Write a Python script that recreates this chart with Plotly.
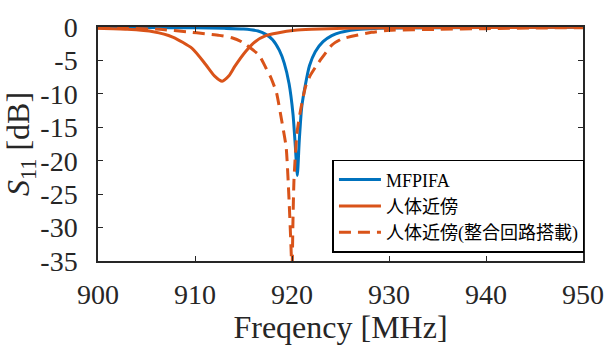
import plotly.graph_objects as go

# MFPIFA
f_blue = [900, 905, 910, 913, 915, 916.5, 917.3, 918, 918.7, 919.2, 919.7, 920.1, 920.35, 920.55,
          920.75, 921.0, 921.4, 921.8, 922.4, 923.2, 924.1, 925, 926.5, 928, 930, 940, 950]
s_blue = [-0.05, -0.08, -0.12, -0.2, -0.3, -0.6, -1.1, -1.9, -3.5, -5.4, -8.5, -13, -18, -22.2,
          -17, -12, -8.5, -5.8, -3.7, -2.2, -1.3, -0.8, -0.4, -0.25, -0.15, -0.07, -0.05]

# 人体近傍
f_body = [900, 903, 905.7, 907.7, 909.7, 911.1, 912, 912.8, 913.5, 914.1, 915.2, 916.2, 917.3,
          918.5, 920.3, 922, 925.4, 930, 940, 950]
s_body = [-0.2, -0.35, -0.7, -1.5, -3.2, -5.6, -7.3, -8.1, -7.3, -5.9, -3.7, -2.2, -1.3,
          -0.9, -0.5, -0.35, -0.2, -0.12, -0.06, -0.05]

# 人体近傍(整合回路搭載)
f_match = [900, 903, 906.4, 909.4, 911, 912.5, 913.8, 914.8, 915.3, 916.6, 917.3, 917.8, 918.4,
           918.9, 919.4, 919.7, 919.9, 920.0, 920.1, 920.2, 920.5, 920.9, 921.4, 921.9, 922.6,
           923.3, 924.1, 925.1, 926.8, 928.2, 930, 935, 940, 945, 950]
s_match = [-0.15, -0.2, -0.35, -0.75, -1.0, -1.25, -1.6, -2.2, -2.7, -4.2, -6.1, -7.5, -9.8,
           -13.7, -18, -26, -33, -37, -29, -23, -16, -12.3, -8.9, -7.2, -5.6,
           -4.2, -2.7, -1.8, -1.2, -0.8, -0.5, -0.35, -0.25, -0.15, -0.1]

names = ["MFPIFA", "人体近傍", "人体近傍(整合回路搭載)"]
x_ticks = [900, 910, 920, 930, 940, 950]
y_ticks = [0, -5, -10, -15, -20, -25, -30, -35]

BLUE = "#0072BD"
ORANGE = "#D95319"
INK = "#262626"
SERIF = "Liberation Serif"

fig = go.Figure()
fig.add_trace(go.Scatter(x=f_blue, y=s_blue, mode="lines", name=names[0],
                         line=dict(color=BLUE, width=3, shape="spline", smoothing=0.6)))
fig.add_trace(go.Scatter(x=f_body, y=s_body, mode="lines", name=names[1],
                         line=dict(color=ORANGE, width=3, shape="spline", smoothing=0.6)))
fig.add_trace(go.Scatter(x=f_match, y=s_match, mode="lines", name=names[2],
                         line=dict(color=ORANGE, width=3, dash="12px,7px", shape="spline", smoothing=0.5)))

axis_common = dict(showline=True, linecolor=INK, linewidth=1.5, mirror="ticks",
                   ticks="inside", ticklen=5, tickwidth=1.2, tickcolor=INK,
                   showgrid=False, zeroline=False,
                   tickfont=dict(family=SERIF, size=28, color=INK))

fig.update_xaxes(range=[900, 950], tickvals=x_ticks, ticktext=[str(v) for v in x_ticks],
                 ticklabelstandoff=8,
                 title=dict(text="Freqency [MHz]", font=dict(family=SERIF, size=32, color=INK),
                            standoff=0),
                 **axis_common)
fig.update_yaxes(range=[-35, 0], tickvals=y_ticks, ticktext=[str(v) for v in y_ticks],
                 ticklabelstandoff=13,
                 title=dict(text="<i>S</i><sub>11</sub> [dB]",
                            font=dict(family=SERIF, size=32, color=INK),
                            standoff=6),
                 **axis_common)

fig.update_layout(
    width=616, height=345,
    margin=dict(l=98, r=24, t=17, b=82),
    plot_bgcolor="white", paper_bgcolor="white",
    legend=dict(x=1.003, y=0.035, xanchor="right", yanchor="bottom",
                bgcolor="white", bordercolor="black", borderwidth=1.5,
                font=dict(family=SERIF + ", Noto Sans CJK JP", size=18, color="black"),
                tracegroupgap=0, itemwidth=42),
)

fig.write_html("out.html")
